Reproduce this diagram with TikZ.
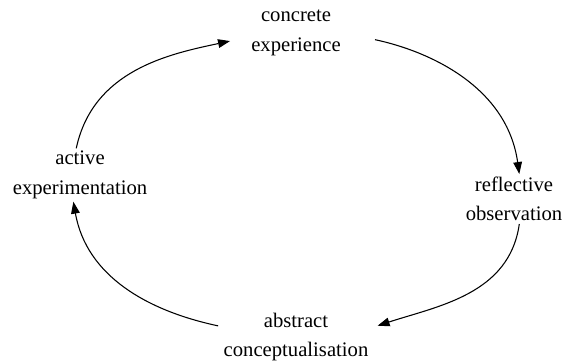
\documentclass[tikz,border=0pt]{standalone}
\usepackage{fontspec}
\setmainfont{Liberation Serif}
\usepackage{tikz}
\usetikzlibrary{shapes,arrows,arrows.meta}

\begin{document}
\begin{tikzpicture}[x=0.75pt, y=-0.75pt]
		% Define the style for the stage nodes and the arcs
		\tikzstyle{stage}=[align=center, inner sep=2pt, font=\fontsize{15.5}{22}\selectfont]
		\tikzstyle{cycle}=[line width=0.8pt, arrows = {-{Triangle[length=9pt,width=6.5pt]}}]

		\useasboundingbox (0,0) rectangle (565,362);

		% Define nodes
		\node (CE) [stage] at (296,33) {concrete\\experience};
		\node (RO) [stage] at (514,199) {reflective\\observation};
		\node (AC) [stage] at (296,337) {abstract\\conceptualisation};
		\node (AE) [stage] at (80,175) {active\\experimentation};

		% Define edges
		\draw[cycle, shorten >=14pt] (AE.98) to[out=78, in=192] (CE.185);
		\draw[cycle, shorten <=24pt] (CE.east) to[out=-12, in=98] (RO.78);
		\draw[cycle, shorten >=5pt] (RO.-78) to[out=-98, in=18] (AC.7);
		\draw[cycle, shorten <=2pt] (AC.172) to[out=168, in=-80] (AE.-104);
	\end{tikzpicture}
\end{document}
